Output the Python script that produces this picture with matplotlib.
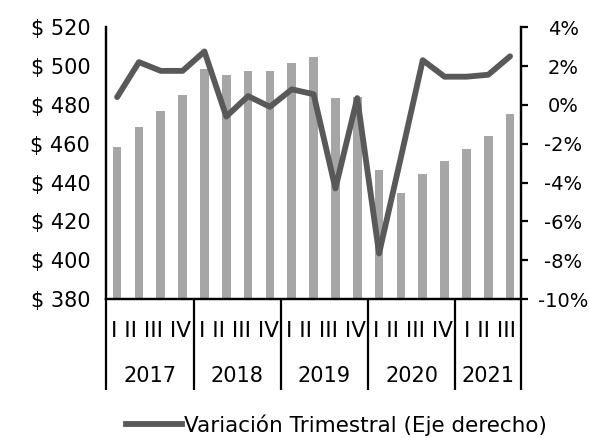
import matplotlib
matplotlib.use("Agg")
import matplotlib.pyplot as plt
import matplotlib.transforms as mtransforms
from matplotlib.lines import Line2D
from matplotlib.ticker import FuncFormatter

years = ["2017", "2018", "2019", "2020", "2021"]
quarters_per_year = [4, 4, 4, 4, 3]
quarter_names = ["I", "II", "III", "IV"]

nivel = [458.5, 468.5, 477, 485, 498.5, 495.5, 497.5, 497.5, 501.5, 504.5,
         483.5, 484, 446.5, 434.5, 444.5, 451, 457.5, 464, 475.5]
variacion = [0.4, 2.2, 1.75, 1.75, 2.75, -0.6, 0.45, -0.1, 0.8, 0.55,
             -4.3, 0.35, -7.65, -2.7, 2.3, 1.45, 1.45, 1.55, 2.5]

plt.rcParams['font.family'] = ['DejaVu Sans']
plt.rcParams['axes.unicode_minus'] = False
FS = 15

fig = plt.figure(figsize=(5.9, 4.38), dpi=100)
ax = fig.add_axes([0.18, 0.317, 0.703, 0.621])
ax2 = ax.twinx()

x = list(range(len(nivel)))
ax.bar(x, nivel, width=0.4, color="#A6A6A6", zorder=2)
ax.set_ylim(380, 520)
ax.set_yticks(range(380, 521, 20))
ax.yaxis.set_major_formatter(FuncFormatter(lambda v, p: f"$ {int(v)}"))
ax.set_xlim(-0.5, len(nivel) - 0.5)

ax2.plot(x, variacion, color="#595959", lw=4.2, solid_joinstyle="round",
         solid_capstyle="round", zorder=3)
ax2.set_ylim(-10, 4)
ax2.set_yticks(range(-10, 5, 2))
ax2.yaxis.set_major_formatter(FuncFormatter(lambda v, p: f"{int(v)}%"))

for a in (ax, ax2):
    a.spines['top'].set_visible(False)
    for s in a.spines.values():
        s.set_linewidth(1.6)
        s.set_color("black")
ax.tick_params(axis='y', length=0, labelsize=FS, pad=11.5)
ax2.tick_params(axis='y', length=5, width=1.6, labelsize=14, pad=25.5, direction='out')
for lbl in ax2.get_yticklabels():
    lbl.set_horizontalalignment('center')

ax.set_xticks([])

trans = mtransforms.blended_transform_factory(ax.transData, ax.transAxes)
bounds = [-0.5]
for n in quarters_per_year:
    bounds.append(bounds[-1] + n)
for b in bounds:
    ax.plot([b, b], [0, -0.335], transform=trans, color="black", lw=1.6,
            clip_on=False, solid_capstyle="butt")
for i, yr in enumerate(years):
    c = (bounds[i] + bounds[i + 1]) / 2
    qtext = " ".join(quarter_names[:quarters_per_year[i]])
    ax.text(c + 0.07, -0.118, qtext, transform=trans, ha="center", va="center",
            fontsize=15.5)
    ax.text(c, -0.283, yr, transform=trans, ha="center", va="center", fontsize=FS)

handle = Line2D([0], [0], color="#595959", lw=4.2)
fig.legend([handle], ["Variación Trimestral (Eje derecho)"], loc="center",
           bbox_to_anchor=(0.57, 0.03), frameon=False, fontsize=15.5,
           handlelength=2.6, handletextpad=0.1)

fig.savefig("out.png", dpi=100)
